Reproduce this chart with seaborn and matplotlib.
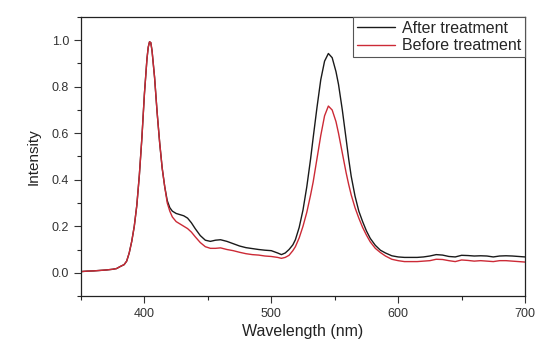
import numpy as np
import pandas as pd
import matplotlib
matplotlib.use("Agg")
import matplotlib.pyplot as plt
from matplotlib.ticker import MultipleLocator, FormatStrFormatter
import seaborn as sns

sns.set_style("ticks")
plt.rcParams['font.family'] = ['Liberation Sans', 'DejaVu Sans']

# wavelength grid (nm), denser around the two emission peaks
wavelength = [350, 355, 360, 365, 370, 375, 378, 381, 384,
              386, 388, 390, 392, 394, 396, 398, 400, 402, 403, 404, 405, 406, 408, 410, 412, 414, 416, 418,
              420, 422, 425, 428, 431, 434, 437, 440, 444, 448, 452, 456, 460,
              465, 470, 475, 480, 485, 490, 495, 500,
              505, 508, 511, 514, 517, 519, 522, 525, 528, 531, 533, 536, 539, 542, 545, 548,
              551, 553, 556, 559, 561, 563, 566, 569, 572, 575, 578, 582, 586, 590, 595,
              600, 605, 610, 615, 620, 625, 630, 635, 640, 645, 650, 655, 660, 665, 670,
              675, 680, 685, 690, 695, 700]

before_treatment = [0.005, 0.007, 0.008, 0.010, 0.012, 0.015, 0.018, 0.027, 0.035,
                    0.05, 0.085, 0.135, 0.20, 0.29, 0.42, 0.58, 0.77, 0.92, 0.97, 0.993, 0.99, 0.955, 0.84, 0.69, 0.56, 0.45, 0.37, 0.30,
                    0.265, 0.24, 0.22, 0.21, 0.20, 0.19, 0.175, 0.155, 0.13, 0.112, 0.105, 0.105, 0.107,
                    0.10, 0.095, 0.088, 0.082, 0.078, 0.076, 0.072, 0.070,
                    0.066, 0.062, 0.066, 0.075, 0.095, 0.112, 0.15, 0.20, 0.26, 0.335, 0.39, 0.49, 0.59, 0.675, 0.717, 0.70,
                    0.65, 0.60, 0.515, 0.43, 0.38, 0.335, 0.28, 0.235, 0.195, 0.162, 0.133, 0.105, 0.087, 0.072, 0.058,
                    0.052, 0.048, 0.048, 0.048, 0.050, 0.052, 0.058, 0.057, 0.052, 0.048, 0.055, 0.053, 0.050, 0.052, 0.050,
                    0.048, 0.052, 0.052, 0.050, 0.048, 0.046]

after_treatment = [0.005, 0.007, 0.008, 0.010, 0.012, 0.015, 0.018, 0.027, 0.035,
                   0.05, 0.085, 0.135, 0.20, 0.29, 0.42, 0.58, 0.77, 0.92, 0.97, 0.993, 0.99, 0.955, 0.84, 0.69, 0.56, 0.45, 0.37, 0.31,
                   0.28, 0.265, 0.255, 0.25, 0.245, 0.235, 0.215, 0.19, 0.16, 0.14, 0.135, 0.14, 0.142,
                   0.135, 0.125, 0.115, 0.108, 0.104, 0.100, 0.097, 0.095,
                   0.085, 0.078, 0.085, 0.10, 0.12, 0.142, 0.195, 0.27, 0.37, 0.49, 0.58, 0.71, 0.83, 0.91, 0.943, 0.925,
                   0.865, 0.81, 0.70, 0.575, 0.49, 0.415, 0.33, 0.265, 0.22, 0.18, 0.148, 0.118, 0.097, 0.085, 0.073,
                   0.068, 0.066, 0.066, 0.066, 0.068, 0.072, 0.078, 0.076, 0.070, 0.068, 0.075, 0.074, 0.072, 0.073, 0.072,
                   0.068, 0.072, 0.073, 0.072, 0.070, 0.068]

fig = plt.figure(figsize=(5.35, 3.42), dpi=100)
ax = fig.add_axes([0.1514, 0.1345, 0.8299, 0.8158])

sns.lineplot(x=wavelength, y=after_treatment, ax=ax, color='#1a1a1a', lw=1.0, label='After treatment')
sns.lineplot(x=wavelength, y=before_treatment, ax=ax, color='#cc2a36', lw=1.0, label='Before treatment')

ax.set_xlim(350, 700)
ax.set_ylim(-0.1, 1.1)
ax.xaxis.set_major_locator(MultipleLocator(100))
ax.xaxis.set_minor_locator(MultipleLocator(50))
ax.yaxis.set_major_locator(MultipleLocator(0.2))
ax.yaxis.set_minor_locator(MultipleLocator(0.1))
ax.yaxis.set_major_formatter(FormatStrFormatter('%.1f'))
ax.tick_params(which='major', direction='out', length=5, width=0.8, labelsize=9, colors='#333333')
ax.tick_params(which='minor', direction='out', length=3, width=0.8)
ax.tick_params(top=False, right=False, which='both')

for s in ax.spines.values():
    s.set_visible(True)
    s.set_linewidth(0.9)
    s.set_color('#222222')

ax.set_xlabel('Wavelength (nm)', fontsize=11.5, color='#222222', labelpad=3)
ax.set_ylabel('Intensity', fontsize=11, color='#222222', labelpad=8)

leg = ax.legend(loc='upper right', fontsize=11.5, frameon=True, fancybox=False,
                borderaxespad=0, handlelength=2.4, handletextpad=0.4,
                labelspacing=0.15, borderpad=0.25)
leg.get_frame().set_edgecolor('#555555')
leg.get_frame().set_linewidth(0.8)
leg.get_frame().set_alpha(1)

fig.savefig('out.png', dpi=100)
